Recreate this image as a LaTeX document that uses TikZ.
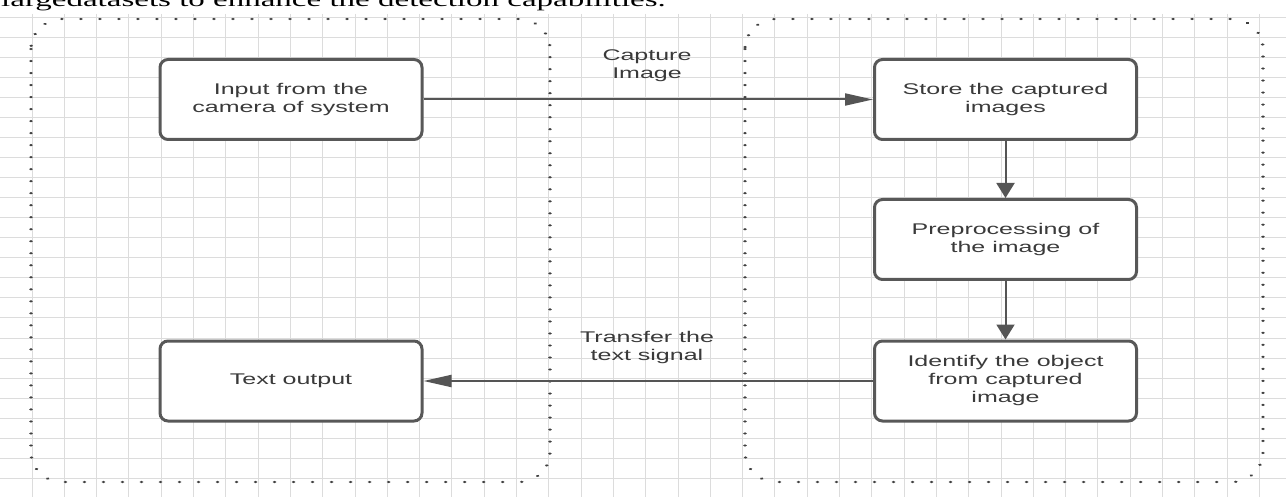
\documentclass[tikz,border=0pt]{standalone}
\usepackage{fontspec}
\setmainfont{Liberation Serif}
\newfontfamily\arialf{Liberation Sans}
\usepackage{graphicx}
\usetikzlibrary{arrows.meta}
\definecolor{gridc}{HTML}{DCDCDC}
\definecolor{boxc}{HTML}{585858}
\definecolor{arrc}{HTML}{555555}
\definecolor{txtc}{HTML}{3A3A3A}
\definecolor{dotc}{HTML}{404040}
\newcommand{\sqz}[1]{\scalebox{1}[0.62]{\begin{tabular}{@{}c@{}}#1\end{tabular}}}
\begin{document}
\begin{tikzpicture}[x=1pt,y=1pt,
  stepbox/.style={draw=boxc, line width=3pt, rounded corners=8pt, fill=white,
    minimum width=262pt, minimum height=80pt, inner sep=0pt, text=txtc,
    font=\arialf\fontsize{25}{29}\selectfont},
  lbl/.style={inner sep=0pt, text=txtc, font=\arialf\fontsize{25}{29}\selectfont},
  harr/.style={draw=arrc, line width=2pt, -{Triangle[length=28pt,width=12pt]}},
  varr/.style={draw=arrc, line width=2pt, -{Triangle[length=15pt,width=18pt]}},
  dotbox/.style={draw=dotc, line width=3.8pt, line cap=round, dash pattern=on 0.01pt off 19pt}]
\useasboundingbox (0,0) rectangle (1286,-497);
\clip (0,0) rectangle (1286,-497);
\fill[white] (0,0) rectangle (1286,-497);
% grid
\foreach \i in {0,...,39} \draw[gridc, line width=1pt] ({32+32.3*\i},-14) -- ({32+32.3*\i},-497);
\foreach \j in {0,...,24} \draw[gridc, line width=1pt] (0,{-18-20*\j}) -- (1286,{-18-20*\j});
% cut-off document text
\node[anchor=base west, inner sep=0pt, font=\fontsize{33}{36}\selectfont] (doc) at (1,-7)
  {\scalebox{1}[0.62]{largedatasets to enhance the detection capabilities.}};
% dotted groups
\begin{scope}[transform canvas={yscale=0.632}]
\draw[dotbox] (31,-77.56) -- (31,-715.16)
  arc[start angle=180,end angle=270,x radius=31,y radius=47.5] -- (519,-762.66)
  arc[start angle=270,end angle=360,x radius=31,y radius=47.5] -- (550,-77.56)
  arc[start angle=0,end angle=90,x radius=31,y radius=47.5] -- (62,-30.06)
  arc[start angle=90,end angle=180,x radius=31,y radius=47.5] -- cycle;
\draw[dotbox] (745,-77.56) -- (745,-715.16)
  arc[start angle=180,end angle=270,x radius=31,y radius=47.5] -- (1232,-762.66)
  arc[start angle=270,end angle=360,x radius=31,y radius=47.5] -- (1263,-77.56)
  arc[start angle=0,end angle=90,x radius=31,y radius=47.5] -- (776,-30.06)
  arc[start angle=90,end angle=180,x radius=31,y radius=47.5] -- cycle;
\end{scope}
% boxes
\node[stepbox] (b1) at (291,-99.5) {\sqz{Input from the\\camera of system}};
\node[stepbox] (b2) at (1005.5,-99.5) {\sqz{Store the captured\\images}};
\node[stepbox] (b3) at (1005.5,-239.5) {\sqz{Preprocessing of\\the image}};
\node[stepbox] (b4) at (1005.5,-381) {\sqz{Identify the object\\from captured\\image}};
\node[stepbox] (b5) at (291,-381) {\sqz{Text output}};
% connectors
\draw[harr] (b1) -- (b2);
\draw[varr] (b2) -- (b3);
\draw[varr] (b3) -- (b4);
\draw[harr] (b4) -- (b5);
% labels
\node[lbl] (l1) at (647,-66) {\sqz{Capture\\Image}};
\node[lbl] (l2) at (647,-348) {\sqz{Transfer the\\text signal}};
\end{tikzpicture}
\end{document}
